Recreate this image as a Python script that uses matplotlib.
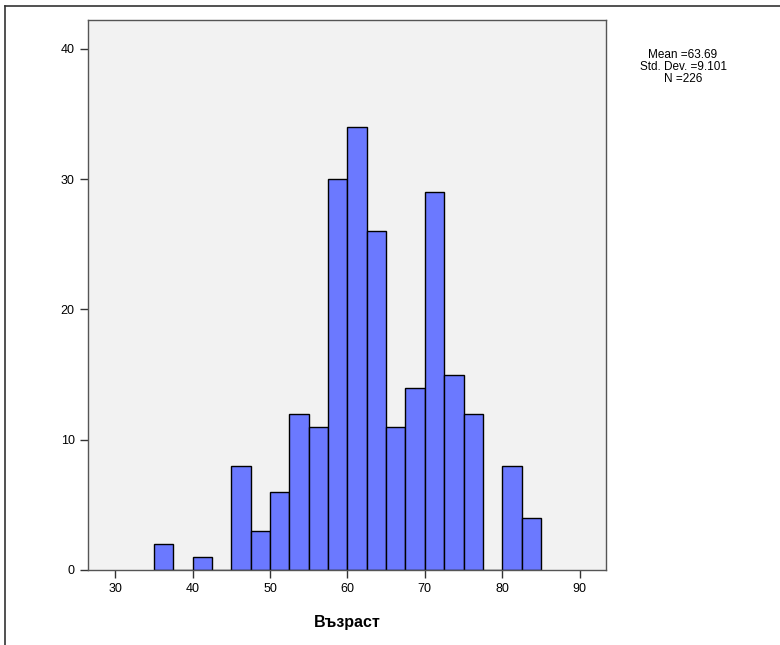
import matplotlib.pyplot as plt
from matplotlib.lines import Line2D

plt.rcParams['font.family'] = ['Liberation Sans', 'DejaVu Sans']

# Histogram bins (left edges) and counts
bin_edges = [35, 37.5, 40, 42.5, 45, 47.5, 50, 52.5, 55, 57.5, 60, 62.5,
             65, 67.5, 70, 72.5, 75, 77.5, 80, 82.5, 85]
counts = [2, 0, 1, 0, 8, 3, 6, 12, 11, 30, 34, 26, 11, 14, 29, 15, 12, 0, 8, 4]
x_ticks = [30, 40, 50, 60, 70, 80, 90]
y_ticks = [0, 10, 20, 30, 40]
stats_text = 'Mean =63.69\nStd. Dev. =9.101\nN =226'

fig = plt.figure(figsize=(7.8, 6.45), dpi=100)
ax = fig.add_axes([88 / 780, 1 - 570 / 645, (606 - 88) / 780, (570 - 20) / 645])
ax.set_facecolor('#f2f2f2')

widths = [bin_edges[i + 1] - bin_edges[i] for i in range(len(counts))]
ax.bar(bin_edges[:-1], counts, width=widths, align='edge',
       color='#6b79ff', edgecolor='black', linewidth=1.0)

ax.set_xlim(26.5, 93.4)
ax.set_ylim(0, 42.2)
ax.set_xticks(x_ticks)
ax.set_yticks(y_ticks)
ax.tick_params(axis='both', labelsize=9, length=6, width=1, color='#333333')
for s in ax.spines.values():
    s.set_color('#555555')
    s.set_linewidth(1)

ax.set_xlabel('Възраст', fontsize=11.5, fontweight='bold', labelpad=14)

fig.text(683 / 780, 1 - 67 / 645, stats_text, ha='center', va='center',
         fontsize=8.5, linespacing=1.0)

# outer frame (top and left edges only, like the SPSS output window)
y_top = 1 - 6 / 645
x_left = 5 / 780
fig.add_artist(Line2D([x_left, 1], [y_top, y_top], transform=fig.transFigure,
                      color='#333333', linewidth=1.2))
fig.add_artist(Line2D([x_left, x_left], [0, y_top], transform=fig.transFigure,
                      color='#333333', linewidth=1.2))

fig.savefig('out.png', dpi=100)
